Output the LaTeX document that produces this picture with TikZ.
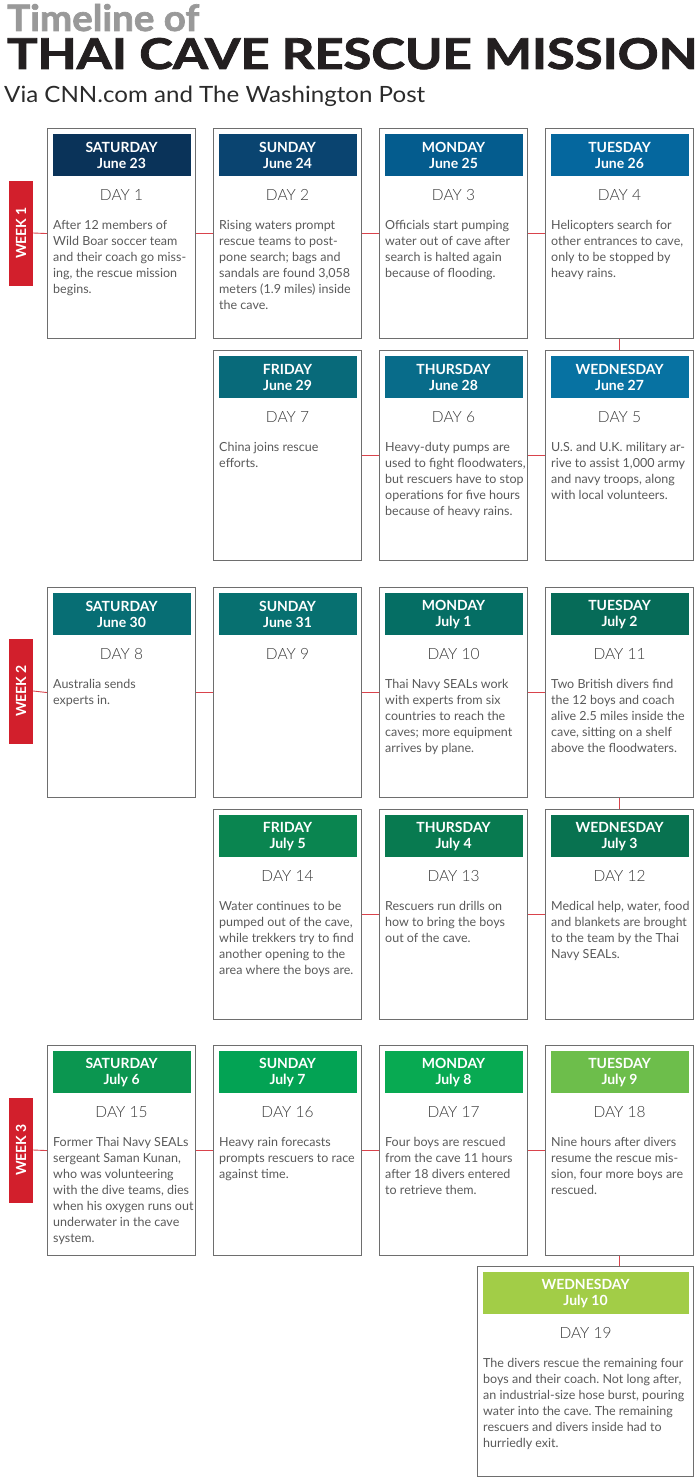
\documentclass[tikz,border=0pt]{standalone}
\usepackage{fontspec}
\setmainfont{Lato}
\newfontfamily\latoblack{Lato}[UprightFont={* Bold},FakeBold=1.8]
\newfontfamily\latolight{Lato Light}
\usetikzlibrary{positioning}
\frenchspacing

\definecolor{linkred}{HTML}{D9434C}
\definecolor{weekred}{HTML}{D21F2C}
\definecolor{framegray}{HTML}{6E6E6E}
\definecolor{bodygray}{HTML}{5A5A5A}
\definecolor{daygray}{HTML}{3A3A3A}
\definecolor{titlegray}{HTML}{999999}
\definecolor{titleblack}{HTML}{231F20}
\definecolor{subgray}{HTML}{2B2B2B}
% header colours, day 1 to day 19
\definecolor{hd1}{HTML}{0A3359}
\definecolor{hd2}{HTML}{0A4470}
\definecolor{hd3}{HTML}{045C8E}
\definecolor{hd4}{HTML}{05679E}
\definecolor{hd5}{HTML}{0772A2}
\definecolor{hd6}{HTML}{086C8A}
\definecolor{hd7}{HTML}{086A7A}
\definecolor{hd8}{HTML}{076E74}
\definecolor{hd9}{HTML}{077070}
\definecolor{hd10}{HTML}{056E64}
\definecolor{hd11}{HTML}{066B58}
\definecolor{hd12}{HTML}{087250}
\definecolor{hd13}{HTML}{087A50}
\definecolor{hd14}{HTML}{0A8550}
\definecolor{hd15}{HTML}{0B9650}
\definecolor{hd16}{HTML}{03A354}
\definecolor{hd17}{HTML}{08AA52}
\definecolor{hd18}{HTML}{6DBE4B}
\definecolor{hd19}{HTML}{A2CD47}

\begin{document}
\begin{tikzpicture}
[x=1pt,y=-1pt,
  dayBox/.style={draw=framegray,line width=1.1pt,fill=white,inner sep=0pt,
    minimum height=210pt,anchor=north west},
  dayHead/.style={fill=#1,text=white,inner sep=0pt,align=center,
    font=\bfseries\fontsize{14}{16}\selectfont,minimum height=42pt,anchor=north},
  dayNum/.style={font=\latolight\fontsize{15.5}{18}\selectfont,text=daygray,inner sep=0pt},
  dayText/.style={font=\fontsize{12.5}{16}\selectfont,text=bodygray,align=left,
    inner sep=0pt,anchor=north west},
  weekTag/.style={fill=weekred,text=white,inner sep=0pt,
    font=\bfseries\fontsize{14}{16}\selectfont,minimum width=24pt,minimum height=105pt},
  linkDecorate/.style={draw=linkred,line width=0.9pt}]
\useasboundingbox (0,0) rectangle (700,1477);
%% title
\node[anchor=base west,inner sep=0pt,text=titlegray] (title) at (7,31)
  {\resizebox{192pt}{27pt}{\latoblack Timeline of}};
\node[anchor=base west,inner sep=0pt,text=titleblack] (mission) at (7,69)
  {\resizebox{690pt}{31pt}{\latoblack THAI CAVE RESCUE MISSION}};
\node[anchor=base west,inner sep=0pt,text=subgray] (source) at (4,103)
  {\resizebox{421pt}{16.5pt}{Via CNN.com and The Washington Post}};
%% week tags
\foreach \wk/\y in {1/233, 2/691, 3/1150}
{
  \node[weekTag] (w\wk) at (21,\y) {\rotatebox{90}{WEEK \wk}};
}
%% day boxes
\foreach \id/\x/\y/\bw/\wday/\date/\desc in {
  1/47/128/148/SATURDAY/June 23/{After 12 members of\\Wild Boar soccer team\\and their coach go miss-\\ing, the rescue mission\\begins.},
  2/213/128/148/SUNDAY/June 24/{Rising waters prompt\\rescue teams to post-\\pone search; bags and\\sandals are found 3,058\\meters (1.9 miles) inside\\the cave.},
  3/379/128/148/MONDAY/June 25/{Officials start pumping\\water out of cave after\\search is halted again\\because of flooding.},
  4/545/128/148/TUESDAY/June 26/{Helicopters search for\\other entrances to cave,\\only to be stopped by\\heavy rains.},
  5/545/350/148/WEDNESDAY/June 27/{U.S. and U.K. military ar-\\rive to assist 1,000 army\\and navy troops, along\\with local volunteers.},
  6/379/350/148/THURSDAY/June 28/{Heavy-duty pumps are\\used to fight floodwaters,\\but rescuers have to stop\\operations for five hours\\because of heavy rains.},
  7/213/350/148/FRIDAY/June 29/{China joins rescue\\efforts.},
  8/47/587/148/SATURDAY/June 30/{Australia sends\\experts in.},
  9/213/587/148/SUNDAY/June 31/{},
  10/379/587/148/MONDAY/July 1/{Thai Navy SEALs work\\with experts from six\\countries to reach the\\caves; more equipment\\arrives by plane.},
  11/545/587/148/TUESDAY/July 2/{Two British divers find\\the 12 boys and coach\\alive 2.5 miles inside the\\cave, sitting on a shelf\\above the floodwaters.},
  12/545/809/148/WEDNESDAY/July 3/{Medical help, water, food\\and blankets are brought\\to the team by the Thai\\Navy SEALs.},
  13/379/809/148/THURSDAY/July 4/{Rescuers run drills on\\how to bring the boys\\out of the cave.},
  14/213/809/148/FRIDAY/July 5/{Water continues to be\\pumped out of the cave,\\while trekkers try to find\\another opening to the\\area where the boys are.},
  15/47/1045/148/SATURDAY/July 6/{Former Thai Navy SEALs\\sergeant Saman Kunan,\\who was volunteering\\with the dive teams, dies\\when his oxygen runs out\\underwater in the cave\\system.},
  16/213/1045/148/SUNDAY/July 7/{Heavy rain forecasts\\prompts rescuers to race\\against time.},
  17/379/1045/148/MONDAY/July 8/{Four boys are rescued\\from the cave 11 hours\\after 18 divers entered\\to retrieve them.},
  18/545/1045/148/TUESDAY/July 9/{Nine hours after divers\\resume the rescue mis-\\sion, four more boys are\\rescued.},
  19/477/1266/216/WEDNESDAY/July 10/{The divers rescue the remaining four\\boys and their coach. Not long after,\\an industrial-size hose burst, pouring\\water into the cave. The remaining\\rescuers and divers inside had to\\hurriedly exit.}}
{
  \node[dayBox,minimum width=\bw pt] (day\id) at (\x,\y) {};
  \node[dayHead=hd\id,minimum width=\bw pt-10pt] (head\id) at ([yshift=-6pt]day\id.north) {\wday\\\date};
  \node[dayNum] (num\id) at ([yshift=-67pt]day\id.north) {DAY \id};
  \node[dayText] (text\id) at ([xshift=6pt,yshift=-92pt]day\id.north west) {\desc};
}
%% connectors, left to right
\path
\foreach \startnode/\endnode in {
  w1/day1, day1/day2, day2/day3, day3/day4,
  w2/day8, day8/day9, day9/day10, day10/day11,
  w3/day15, day15/day16, day16/day17, day17/day18}
{
  (\startnode.east) edge[linkDecorate] (\endnode.west)
};
%% connectors, right to left
\path
\foreach \startnode/\endnode in {day5/day6, day6/day7, day12/day13, day13/day14}
{
  (\startnode.west) edge[linkDecorate] (\endnode.east)
};
\draw[linkDecorate] (day4.south) -- (day5.north);
\draw[linkDecorate] (day11.south) -- (day12.north);
\draw[linkDecorate] (day18.south) -- (day18.south |- day19.north);
\end{tikzpicture}
\end{document}
